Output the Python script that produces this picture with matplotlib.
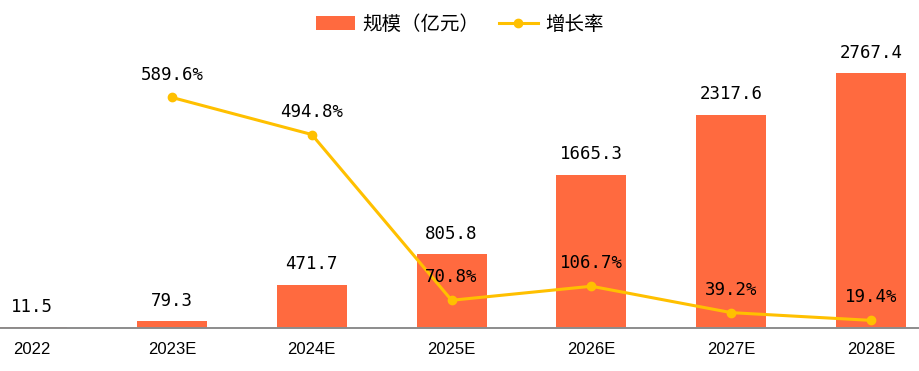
import matplotlib.pyplot as plt
import numpy as np

plt.rcParams['font.family'] = ['Noto Sans CJK SC', 'DejaVu Sans']

years = ['2022', '2023E', '2024E', '2025E', '2026E', '2027E', '2028E']
scale = [11.5, 79.3, 471.7, 805.8, 1665.3, 2317.6, 2767.4]
growth_years = years[1:]
growth = [589.6, 494.8, 70.8, 106.7, 39.2, 19.4]

bar_color = '#FF6A3F'
line_color = '#FFC000'

fig = plt.figure(figsize=(9.2, 3.71), dpi=100)
ax = fig.add_axes([0, 0.116, 1, 0.803])
ax2 = ax.twinx()

x = np.arange(len(years))
bars = ax.bar(x, scale, width=0.5, color=bar_color, label='规模（亿元）', zorder=2)
gx = x[1:]
ln, = ax2.plot(gx, growth, color=line_color, lw=2.2, marker='o', ms=6,
               label='增长率', zorder=3)

ax.set_xlim(-0.23, 6.35)
ax.set_ylim(0, 3235)
ax2.set_ylim(0, 762)

for xi, v in zip(x, scale):
    ax.annotate(f'{v:.1f}', (xi, v), xytext=(0, 8), textcoords='offset points',
                ha='center', va='bottom', fontsize=12.5, family='DejaVu Sans Mono')
for xi, v in zip(gx, growth):
    ax2.annotate(f'{v:.1f}%', (xi, v), xytext=(0, 10), textcoords='offset points',
                 ha='center', va='bottom', fontsize=12.5, family='DejaVu Sans Mono',
                 zorder=5)

ax.set_xticks(x)
ax.set_xticklabels(years, fontsize=12, family='Liberation Sans')
ax.tick_params(axis='x', length=0, pad=10)
ax.set_yticks([])
ax2.set_yticks([])
for a in (ax, ax2):
    for s in ['top', 'left', 'right']:
        a.spines[s].set_visible(False)
    a.spines['bottom'].set_color('#8C8C8C')
    a.spines['bottom'].set_linewidth(1.2)

ax2.set_zorder(ax.get_zorder() + 1)
ax2.patch.set_visible(False)

fig.legend([bars, ln], ['规模（亿元）', '增长率'], loc='upper center',
           bbox_to_anchor=(0.5, 1.01), ncol=2, frameon=False, fontsize=14,
           handlelength=2.0, columnspacing=1.0, handletextpad=0.4)

plt.savefig('out.png', dpi=100)
